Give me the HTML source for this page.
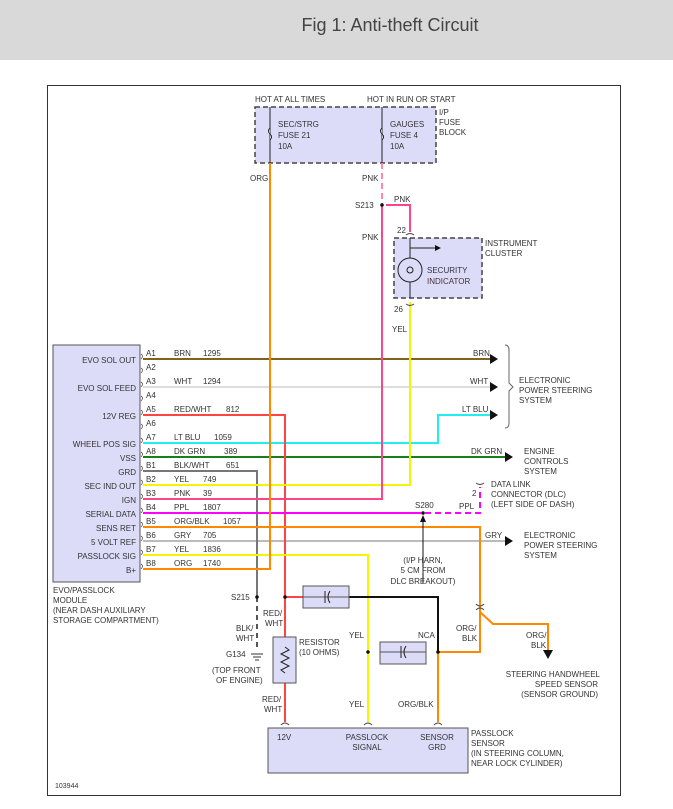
<!DOCTYPE html>
<html><head><style>
body{margin:0;background:#fff;}
svg{display:block;font-family:"Liberation Sans",sans-serif;}
text{font-size:8px;fill:#333;}
</style></head><body>
<svg width="673" height="809" viewBox="0 0 673 809" xmlns="http://www.w3.org/2000/svg">
<rect x="0" y="0" width="673" height="60" fill="#d9d9d9"/>
<text x="390" y="31" style="font-size:18px;fill:#444" text-anchor="middle">Fig 1: Anti-theft Circuit</text>
<rect x="47.5" y="85.5" width="573" height="710" fill="none" stroke="#333" stroke-width="1"/>
<text x="55" y="788" style="font-size:7px">103944</text>

<!-- fuse block -->
<rect x="255" y="107" width="181" height="56" fill="#dcdcf8" stroke="#444" stroke-dasharray="5,3" stroke-width="1.5"/>
<text x="255" y="102">HOT AT ALL TIMES</text>
<text x="367" y="102">HOT IN RUN OR START</text>
<text x="439" y="115">I/P</text><text x="439" y="125">FUSE</text><text x="439" y="135">BLOCK</text>
<line x1="270" y1="107" x2="270" y2="163" stroke="#222"/>
<line x1="382" y1="107" x2="382" y2="163" stroke="#222"/>
<path d="M270 128 q-3 3 0 6 q3 3 0 6" fill="#dcdcf8" stroke="#222"/>
<path d="M382 128 q-3 3 0 6 q3 3 0 6" fill="#dcdcf8" stroke="#222"/>
<text x="278" y="127">SEC/STRG</text><text x="278" y="138">FUSE 21</text><text x="278" y="149">10A</text>
<text x="390" y="127">GAUGES</text><text x="390" y="138">FUSE 4</text><text x="390" y="149">10A</text>

<!-- module -->
<rect x="53" y="345" width="87" height="237" fill="#dcdcf8" stroke="#555"/>
<g text-anchor="end">
<text x="136" y="363">EVO SOL OUT</text><text x="136" y="391">EVO SOL FEED</text><text x="136" y="419">12V REG</text>
<text x="136" y="447">WHEEL POS SIG</text><text x="136" y="461">VSS</text><text x="136" y="475">GRD</text>
<text x="136" y="489">SEC IND OUT</text><text x="136" y="503">IGN</text><text x="136" y="517">SERIAL DATA</text>
<text x="136" y="531">SENS RET</text><text x="136" y="545">5 VOLT REF</text><text x="136" y="559">PASSLOCK SIG</text><text x="136" y="573">B+</text>
</g>
<text x="53" y="593">EVO/PASSLOCK</text><text x="53" y="603">MODULE</text><text x="53" y="613">(NEAR DASH AUXILIARY</text><text x="53" y="623">STORAGE COMPARTMENT)</text>
<g fill="none" stroke="#555" stroke-width="0.8">
<path d="M141 354 q3 2 0 5 M141 368 q3 2 0 5 M141 382 q3 2 0 5 M141 396 q3 2 0 5 M141 410 q3 2 0 5 M141 424 q3 2 0 5 M141 438 q3 2 0 5 M141 452 q3 2 0 5 M141 466 q3 2 0 5 M141 480 q3 2 0 5 M141 494 q3 2 0 5 M141 508 q3 2 0 5 M141 522 q3 2 0 5 M141 536 q3 2 0 5 M141 550 q3 2 0 5 M141 564 q3 2 0 5"/>
</g>
<g>
<text x="146" y="356">A1</text><text x="146" y="370">A2</text><text x="146" y="384">A3</text><text x="146" y="398">A4</text>
<text x="146" y="412">A5</text><text x="146" y="426">A6</text><text x="146" y="440">A7</text><text x="146" y="454">A8</text>
<text x="146" y="468">B1</text><text x="146" y="482">B2</text><text x="146" y="496">B3</text><text x="146" y="510">B4</text>
<text x="146" y="524">B5</text><text x="146" y="538">B6</text><text x="146" y="552">B7</text><text x="146" y="566">B8</text>
<text x="174" y="356">BRN</text><text x="203" y="356">1295</text>
<text x="174" y="384">WHT</text><text x="203" y="384">1294</text>
<text x="174" y="412">RED/WHT</text><text x="226" y="412">812</text>
<text x="174" y="440">LT BLU</text><text x="214" y="440">1059</text>
<text x="174" y="454">DK GRN</text><text x="224" y="454">389</text>
<text x="174" y="468">BLK/WHT</text><text x="226" y="468">651</text>
<text x="174" y="482">YEL</text><text x="203" y="482">749</text>
<text x="174" y="496">PNK</text><text x="203" y="496">39</text>
<text x="174" y="510">PPL</text><text x="203" y="510">1807</text>
<text x="174" y="524">ORG/BLK</text><text x="223" y="524">1057</text>
<text x="174" y="538">GRY</text><text x="203" y="538">705</text>
<text x="174" y="552">YEL</text><text x="203" y="552">1836</text>
<text x="174" y="566">ORG</text><text x="203" y="566">1740</text>
</g>

<!-- wires -->
<g fill="none" stroke-width="2">
<line x1="143" y1="359" x2="490" y2="359" stroke="#7f6420"/>
<line x1="143" y1="387" x2="490" y2="387" stroke="#ddd"/>
<path d="M143 443 H438 V415 H490" stroke="#22eeee"/>
<line x1="143" y1="457" x2="505" y2="457" stroke="#1a7f1a"/>
<line x1="143" y1="541" x2="505" y2="541" stroke="#bbb"/>
<path d="M143 415 H285 V722" stroke="#f44"/>
<line x1="285" y1="597" x2="303" y2="597" stroke="#f44"/>
<path d="M143 471 H257 V597" stroke="#777"/>
<line x1="257" y1="597" x2="257" y2="650" stroke="#555" stroke-dasharray="5,4"/>
<path d="M143 485 H410 V302" stroke="#f5f500"/>
<path d="M143 499 H382 V205" stroke="#f48"/>
<line x1="382" y1="163" x2="382" y2="205" stroke="#f8a" stroke-dasharray="6,4"/>
<path d="M386 205 H410 V232" stroke="#f48"/>
<line x1="143" y1="513" x2="415" y2="513" stroke="#f0f"/>
<path d="M415 513 H480 V487" stroke="#f0f" stroke-dasharray="6,4"/>
<path d="M143 527 H480 V652 H438 V722" stroke="#f80"/>
<path d="M480 612 L493 624 H548 V650" stroke="#f80"/>
<path d="M143 555 H368 V722" stroke="#f5f500"/>
<path d="M270 163 V569 H143" stroke="#f80"/>
<path d="M349 597 H438 V652" stroke="#111"/>
</g>
<!-- arrowheads -->
<g fill="#111">
<path d="M490 354 L498 359 L490 364Z"/><path d="M490 382 L498 387 L490 392Z"/><path d="M490 410 L498 415 L490 420Z"/>
<path d="M505 452 L513 457 L505 462Z"/><path d="M505 536 L513 541 L505 546Z"/>
<path d="M543 650 L553 650 L548 659Z"/>
</g>
<text x="473" y="356">BRN</text><text x="470" y="384">WHT</text><text x="462" y="412">LT BLU</text>
<text x="471" y="454">DK GRN</text><text x="485" y="538">GRY</text>
<path d="M505 345 q4 0 4 5 V383 l4 4 l-4 4 V423 q0 5 -4 5" fill="none" stroke="#666"/>
<text x="519" y="383">ELECTRONIC</text><text x="519" y="393">POWER STEERING</text><text x="519" y="403">SYSTEM</text>
<text x="524" y="454">ENGINE</text><text x="524" y="464">CONTROLS</text><text x="524" y="474">SYSTEM</text>
<text x="524" y="538">ELECTRONIC</text><text x="524" y="548">POWER STEERING</text><text x="524" y="558">SYSTEM</text>
<text x="491" y="487">DATA LINK</text><text x="491" y="497">CONNECTOR (DLC)</text><text x="491" y="507">(LEFT SIDE OF DASH)</text>
<text x="472" y="496">2</text><text x="459" y="509">PPL</text>
<path d="M476 483 q4 3 8 0" fill="none" stroke="#444"/>
<circle cx="423" cy="513" r="1.8" fill="#111"/>
<text x="415" y="508">S280</text>
<line x1="423" y1="583" x2="423" y2="518" stroke="#111"/><path d="M420 522 L423 515 L426 522Z" fill="#111"/>
<text x="423" y="563" text-anchor="middle">(I/P HARN,</text><text x="423" y="573" text-anchor="middle">5 CM FROM</text><text x="423" y="584" text-anchor="middle">DLC BREAKOUT)</text>

<!-- fuse area labels -->
<text x="250" y="181">ORG</text><text x="362" y="181">PNK</text><text x="362" y="240">PNK</text>
<text x="394" y="202">PNK</text>
<circle cx="382" cy="205" r="1.8" fill="#111"/><text x="355" y="208">S213</text>

<!-- instrument cluster -->
<rect x="394" y="238" width="88" height="60" fill="#dcdcf8" stroke="#444" stroke-dasharray="5,3" stroke-width="1.5"/>
<text x="397" y="233">22</text><text x="394" y="312">26</text><text x="392" y="332">YEL</text>
<path d="M406 235 q4 -3 8 0 M406 304 q4 3 8 0" fill="none" stroke="#444"/>
<line x1="410" y1="238" x2="410" y2="298" stroke="#222"/>
<line x1="410" y1="248" x2="437" y2="248" stroke="#222"/><path d="M435 245 L441 248 L435 251Z" fill="#111"/>
<circle cx="410" cy="270" r="12" fill="#dcdcf8" stroke="#222"/>
<circle cx="410" cy="270" r="3" fill="none" stroke="#222"/>
<text x="427" y="273" style="fill:#334">SECURITY</text><text x="427" y="284" style="fill:#433">INDICATOR</text>
<text x="485" y="246">INSTRUMENT</text><text x="485" y="256">CLUSTER</text>

<!-- lower -->
<circle cx="257" cy="597" r="1.8" fill="#111"/><circle cx="285" cy="597" r="1.8" fill="#111"/>
<text x="231" y="600">S215</text>
<rect x="303" y="586" width="46" height="22" fill="#dcdcf8" stroke="#555"/>
<line x1="303" y1="597" x2="349" y2="597" stroke="#555"/>
<path d="M325 591 V603 M330 591 q-4 6 0 12" fill="none" stroke="#222"/>
<text x="263" y="616">RED/</text><text x="265" y="626">WHT</text>
<text x="236" y="631">BLK/</text><text x="236" y="641">WHT</text>
<text x="226" y="657">G134</text>
<path d="M251 654 H263 M253 657 H261 M255 660 H259" stroke="#333"/>
<text x="212" y="673">(TOP FRONT</text><text x="216" y="683">OF ENGINE)</text>
<rect x="273" y="637" width="23" height="46" fill="#dcdcf8" stroke="#555"/>
<path d="M285 647 l4 3 l-8 4 l8 4 l-8 4 l8 4 l-8 4 l4 3" fill="none" stroke="#222"/>
<text x="299" y="645">RESISTOR</text><text x="299" y="655">(10 OHMS)</text>
<text x="262" y="702">RED/</text><text x="264" y="712">WHT</text>
<circle cx="368" cy="652" r="1.8" fill="#111"/><circle cx="438" cy="652" r="1.8" fill="#111"/>
<rect x="380" y="642" width="46" height="22" fill="#dcdcf8" stroke="#555"/>
<line x1="380" y1="652" x2="426" y2="652" stroke="#555"/>
<path d="M401 646 V658 M406 646 q-4 6 0 12" fill="none" stroke="#222"/>
<text x="349" y="638">YEL</text><text x="418" y="638">NCA</text>
<text x="456" y="631">ORG/</text><text x="462" y="641">BLK</text>
<text x="526" y="638">ORG/</text><text x="531" y="648">BLK</text>
<path d="M476 604 q4 4 8 0 M476 610 q4 -4 8 0" fill="none" stroke="#444"/>
<text x="600" y="677" text-anchor="end">STEERING HANDWHEEL</text><text x="598" y="687" text-anchor="end">SPEED SENSOR</text><text x="598" y="697" text-anchor="end">(SENSOR GROUND)</text>
<text x="349" y="707">YEL</text><text x="398" y="707">ORG/BLK</text>
<path d="M281 725 q4 -4 8 0 M364 725 q4 -4 8 0 M434 725 q4 -4 8 0" fill="none" stroke="#444"/>
<rect x="268" y="728" width="200" height="45" fill="#dcdcf8" stroke="#555"/>
<text x="277" y="740">12V</text>
<text x="367" y="740" text-anchor="middle">PASSLOCK</text><text x="367" y="750" text-anchor="middle">SIGNAL</text>
<text x="437" y="740" text-anchor="middle">SENSOR</text><text x="437" y="750" text-anchor="middle">GRD</text>
<text x="471" y="736">PASSLOCK</text><text x="471" y="746">SENSOR</text><text x="471" y="756">(IN STEERING COLUMN,</text><text x="471" y="766">NEAR LOCK CYLINDER)</text>
</svg>
</body></html>
